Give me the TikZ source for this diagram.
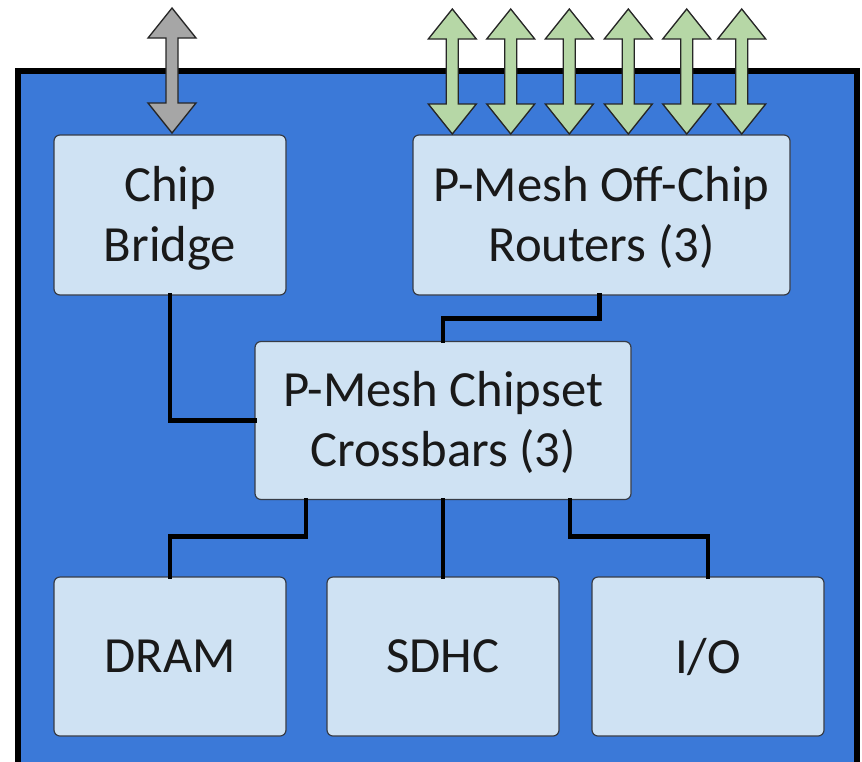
\documentclass[tikz,border=0pt]{standalone}
\usepackage{fontspec}
\setmainfont{Carlito}
\definecolor{chipblue}{RGB}{59,121,216}
\definecolor{boxfill}{RGB}{207,226,243}
\definecolor{boxline}{RGB}{55,60,70}
\definecolor{inkdark}{RGB}{25,25,25}
\definecolor{linkgreen}{RGB}{182,215,166}
\definecolor{linkgray}{RGB}{166,166,166}
\tikzset{
  unit/.style={draw=boxline, line width=0.9pt, fill=boxfill, rounded corners=4.5pt,
    align=center, text=inkdark, font=\fontsize{38}{45}\selectfont, inner sep=0pt},
  twoline/.style={text depth=2pt},
  wire/.style={line width=3.6pt, line cap=rect},
  bidir/.style={draw=black!85, line width=1pt, line join=miter},
}
% vertical double-headed block arrow: centre x, top tip y, bottom tip y, fill
\newcommand\blockarrow[4]{%
  \filldraw[bidir, fill=#4]
    (#1,#2) -- (#1+24,#2+30) -- (#1+6,#2+30) -- (#1+6,#3-30) -- (#1+24,#3-30)
    -- (#1,#3) -- (#1-24,#3-30) -- (#1-6,#3-30) -- (#1-6,#2+30) -- (#1-24,#2+30) -- cycle;}
\begin{document}
\begin{tikzpicture}[x=0.75pt,y=-0.75pt]
\useasboundingbox (0,0) rectangle (862,761);
\begin{scope}
\clip (0,0) rectangle (862,761);
% chip outline
\draw[line width=4.5pt, fill=chipblue] (18,71) rectangle (856.5,800);
\end{scope}

% blocks
\node[unit, twoline, minimum width=232*0.75pt, minimum height=160*0.75pt] (cb) at (170,215) {Chip\\Bridge};
\node[unit, twoline, minimum width=377*0.75pt, minimum height=160*0.75pt] (oc) at (601.5,215) {P-Mesh Off-Chip\\Routers (3)};
\node[unit, twoline, minimum width=376*0.75pt, minimum height=158*0.75pt] (cs) at (443,420.5) {P-Mesh Chipset\\Crossbars (3)};
\node[unit, minimum width=232*0.75pt, minimum height=159*0.75pt] (dram) at (170,656.5) {DRAM};
\node[unit, minimum width=232*0.75pt, minimum height=159*0.75pt] (sdhc) at (443,656.5) {SDHC};
\node[unit, minimum width=232*0.75pt, minimum height=159*0.75pt] (io) at (708,656.5) {I/O};

% interconnect
\draw[wire] (cb.south) |- (cs.west);
\draw[wire] (oc.south) ++(-2,0) -- ++(0,23) -| (cs.north);
\draw[wire] (cs.south) ++(-137,0) -- ++(0,36) -| (dram.north);
\draw[wire] (cs.south) -- (sdhc.north);
\draw[wire] (cs.south) ++(127,0) -- ++(0,36) -| (io.north);

% off-chip links
\blockarrow{172}{8}{133}{linkgray}
\foreach \cx in {452.3,510.7,569.3,628.3,686.7,741.7}{
  \blockarrow{\cx}{9}{134}{linkgreen}
}
\end{tikzpicture}
\end{document}
